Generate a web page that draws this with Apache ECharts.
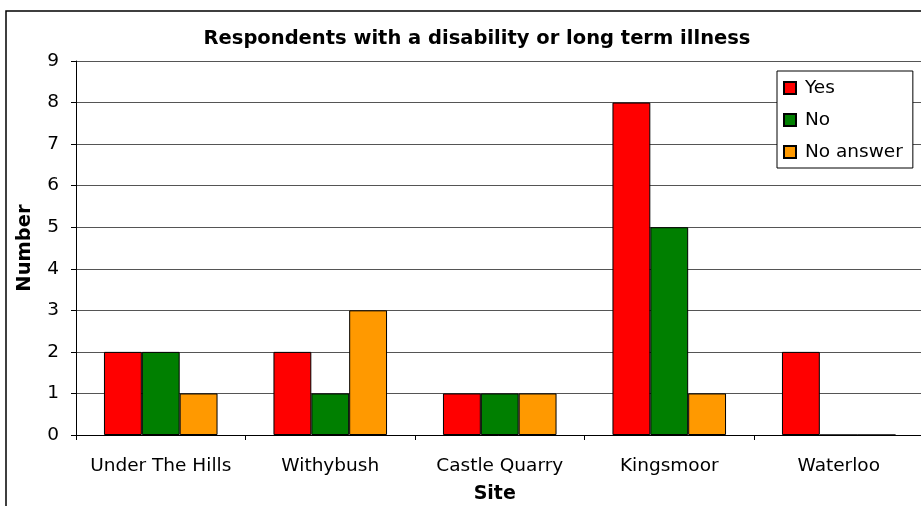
<!DOCTYPE html>
<html><head><meta charset="utf-8">
<script src="https://cdn.jsdelivr.net/npm/echarts@6/dist/echarts.min.js"></script>
<style>html,body{margin:0;padding:0;background:#fff}#c{width:921px;height:506px}</style>
</head><body><div id="c"></div>
<script>
var categories = ['Under The Hills', 'Withybush', 'Castle Quarry', 'Kingsmoor', 'Waterloo'];
var yesValues = [2, 2, 1, 8, 2];
var noValues = [2, 1, 1, 5, 0];
var noAnswerValues = [1, 3, 1, 1, 0];
var yTicks = [0, 1, 2, 3, 4, 5, 6, 7, 8, 9];

var chart = echarts.init(document.getElementById('c'));
var font = 'DejaVu Sans, Liberation Sans, Arial, sans-serif';
function bar(name, data, color) {
  return {
    name: name, type: 'bar', data: data, barGap: '0%', barCategoryGap: '33%',
    itemStyle: { color: color, borderColor: '#000', borderWidth: 1 },
    emphasis: { disabled: true }
  };
}
chart.setOption({
  animation: false,
  textStyle: { fontFamily: font },
  graphic: [{
    type: 'rect', shape: { x: 6, y: 11, width: 930, height: 520 },
    style: { fill: 'none', stroke: '#000', lineWidth: 1.5 }, silent: true, z: -1
  }],
  title: {
    text: 'Respondents with a disability or long term illness',
    left: 472, top: 24, textAlign: 'center',
    textStyle: { fontFamily: font, fontSize: 19.5, fontWeight: 'bold', color: '#000' }
  },
  legend: {
    orient: 'vertical', left: 777, top: 71,
    padding: [6, 10, 5, 6], itemGap: 10,
    borderColor: '#000', borderWidth: 1, backgroundColor: '#fff',
    itemWidth: 12, itemHeight: 12, icon: 'rect',
    textStyle: { fontFamily: font, fontSize: 18.5, color: '#000', lineHeight: 22, padding: [0, 0, 0, 4] },
    data: ['Yes', 'No', 'No answer']
  },
  grid: { left: 76, right: -2.5, top: 61, bottom: 71, containLabel: false, outerBoundsMode: 'none' },
  xAxis: {
    type: 'category', data: categories,
    name: 'Site', nameLocation: 'middle', nameGap: 50,
    nameTextStyle: { fontFamily: font, fontSize: 19, fontWeight: 'bold', color: '#000', padding: [0, 0, 0, -10] },
    axisLine: { lineStyle: { color: '#000', width: 1 } },
    axisTick: { show: true, length: 5, inside: false, lineStyle: { color: '#000' } },
    axisLabel: { fontFamily: font, fontSize: 18.5, color: '#000', margin: 22, interval: 0 }
  },
  yAxis: {
    type: 'value', min: yTicks[0], max: yTicks[yTicks.length - 1], interval: 1,
    name: 'Number', nameLocation: 'middle', nameGap: 41, nameRotate: 90,
    nameTextStyle: { fontFamily: font, fontSize: 19.5, fontWeight: 'bold', color: '#000' },
    axisLine: { show: true, lineStyle: { color: '#000', width: 1 } },
    axisTick: { show: true, length: 5, lineStyle: { color: '#000' } },
    axisLabel: { fontFamily: font, fontSize: 18.5, color: '#000', margin: 17 },
    splitLine: { show: true, lineStyle: { color: '#555', width: 1 } }
  },
  series: [
    bar('Yes', yesValues, '#ff0000'),
    bar('No', noValues, '#007f00'),
    bar('No answer', noAnswerValues, '#ff9900')
  ]
});
</script></body></html>
